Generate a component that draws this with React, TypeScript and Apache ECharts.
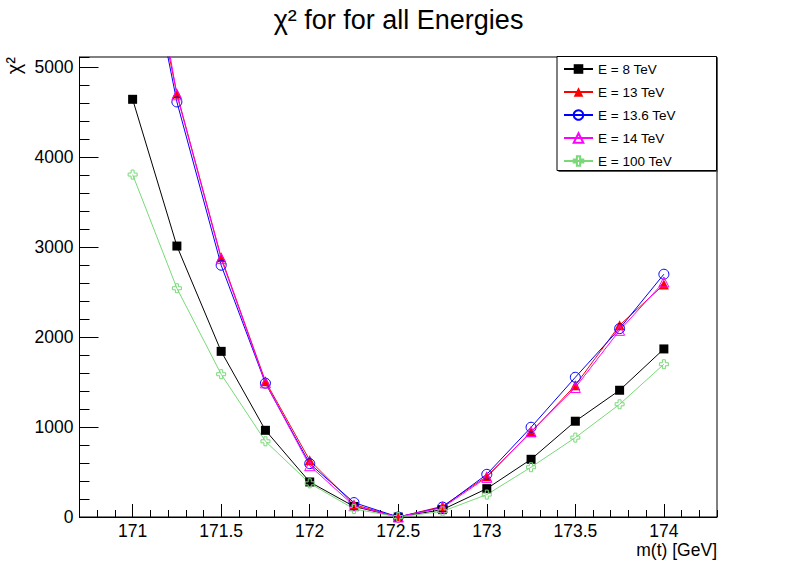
import React, { useEffect, useRef } from "react";
import * as echarts from "echarts";

// top-quark mass points (GeV)
const masses = [171, 171.25, 171.5, 171.75, 172, 172.25, 172.5, 172.75, 173, 173.25, 173.5, 173.75, 174];

// chi2 values
const chi2E8 = [4640, 3010, 1840, 963, 389, 117, 0, 82, 315, 641, 1064, 1408, 1867];
const chi2E13 = [7100, 4704, 2885, 1508, 630, 138, 0, 119, 452, 941, 1463, 2130, 2582];
const chi2E136 = [7080, 4611, 2797, 1486, 593, 160, 0, 110, 474, 997, 1552, 2093, 2697];
const chi2E14 = [7500, 4690, 2870, 1490, 570, 125, 0, 105, 440, 950, 1438, 2074, 2611];
const chi2E100 = [3804, 2541, 1586, 841, 374, 90, 0, 63, 249, 553, 882, 1252, 1697];

const seriesNames = ["E = 8 TeV", "E = 13 TeV", "E = 13.6 TeV", "E = 14 TeV", "E = 100 TeV"];

const titleText = "χ² for for all Energies";
const xTitle = "m(t) [GeV]";
const yTitle = "χ²";

const xMin = 170.7;
const xMax = 174.3;
const yMin = 0;
const yMax = 5110;

const FONT = "'Liberation Sans', Arial, Helvetica, sans-serif";
const GREEN = "#79d979";
const CROSS = "path://M3,0 L6,0 L6,3 L9,3 L9,6 L6,6 L6,9 L3,9 L3,6 L0,6 L0,3 L3,3 Z";

function pairs(ys: number[]) {
  return masses.map((m, i) => [m, ys[i]]);
}

export default function App() {
  const ref = useRef<HTMLDivElement>(null);

  useEffect(() => {
    if (!ref.current) return;
    const chart = echarts.init(ref.current, null, { renderer: "svg" });

    const baseSeries = (name: string, ys: number[], color: string, symbol: string, size: number, filled: boolean) => ({
      name,
      type: "line",
      data: pairs(ys),
      xAxisIndex: 0,
      yAxisIndex: 0,
      symbol,
      symbolSize: size,
      showAllSymbol: true,
      clip: true,
      lineStyle: { color, width: 1 },
      itemStyle: filled
        ? { color, borderWidth: 0 }
        : { color: "rgba(255,255,255,0)", borderColor: color, borderWidth: 1 },
      emphasis: { disabled: true },
    });

    const option: any = {
      animation: false,
      grid: {
        left: 79.5,
        top: 57,
        right: 81,
        bottom: 58,
        show: true,
        borderColor: "#000",
        borderWidth: 1,
        backgroundColor: "transparent",
        containLabel: false,
      },
      xAxis: [
        {
          type: "value",
          position: "bottom",
          min: xMin,
          max: xMax,
          splitNumber: 7,
          minInterval: 0.5,
          maxInterval: 0.5,
          axisLine: { show: true, onZero: false, lineStyle: { color: "#000", width: 1 } },
          axisTick: { show: true, inside: true, length: 13, lineStyle: { color: "#000", width: 1 } },
          axisLabel: {
            showMinLabel: false,
            showMaxLabel: false,
            color: "#000",
            fontSize: 17.5,
            fontFamily: FONT,
            margin: 5,
            formatter: (v: number) => String(v),
          },
          splitLine: { show: false },
        },
        {
          type: "value",
          position: "bottom",
          min: xMin,
          max: xMax,
          splitNumber: 36,
          minInterval: 0.1,
          maxInterval: 0.1,
          axisLine: { show: false, onZero: false },
          axisTick: { show: true, inside: true, length: 7, lineStyle: { color: "#000", width: 1 } },
          axisLabel: { show: false },
          splitLine: { show: false },
        },
      ],
      yAxis: [
        {
          type: "value",
          position: "left",
          min: yMin,
          max: yMax,
          interval: 1000,
          axisLine: { show: true, onZero: false, lineStyle: { color: "#000", width: 1 } },
          axisTick: { show: true, inside: true, length: 19, lineStyle: { color: "#000", width: 1 } },
          axisLabel: {
            showMaxLabel: false,
            color: "#000",
            fontSize: 17.5,
            fontFamily: FONT,
            margin: 6,
            formatter: (v: number) => String(v),
          },
          splitLine: { show: false },
        },
        {
          type: "value",
          position: "left",
          min: yMin,
          max: yMax,
          interval: 200,
          axisLine: { show: false, onZero: false },
          axisTick: { show: true, inside: true, length: 10, lineStyle: { color: "#000", width: 1 } },
          axisLabel: { show: false },
          splitLine: { show: false },
        },
      ],
      legend: {
        data: seriesNames,
        orient: "vertical",
        left: 563,
        top: 62,
        itemWidth: 29,
        itemHeight: 12,
        itemGap: 9,
        padding: 0,
        selectedMode: false,
        z: 10,
        textStyle: { fontFamily: FONT, fontSize: 13.5, color: "#000", lineHeight: 14 },
      },
      graphic: [
        {
          type: "rect",
          z: 8,
          shape: { x: 558.5, y: 58, width: 159.5, height: 114 },
          style: { fill: "#555", stroke: "none" },
        },
        {
          type: "rect",
          z: 9,
          shape: { x: 557, y: 56.5, width: 159.5, height: 114 },
          style: { fill: "#fff", stroke: "#000", lineWidth: 1 },
        },
        {
          type: "text",
          x: 398.5,
          y: 20,
          style: {
            text: titleText,
            fontFamily: FONT,
            fontSize: 27,
            fill: "#000",
            align: "center",
            verticalAlign: "middle",
          },
        },
        {
          type: "text",
          x: 717,
          y: 550,
          style: {
            text: xTitle,
            fontFamily: FONT,
            fontSize: 17.5,
            fill: "#000",
            align: "right",
            verticalAlign: "middle",
          },
        },
        {
          type: "text",
          x: 14,
          y: 57,
          rotation: Math.PI / 2,
          style: {
            text: yTitle,
            fontFamily: FONT,
            fontSize: 20,
            fill: "#000",
            align: "right",
            verticalAlign: "middle",
          },
        },
      ],
      series: [
        baseSeries(seriesNames[0], chi2E8, "#000", "rect", 9, true),
        baseSeries(seriesNames[1], chi2E13, "#ff0000", "triangle", 10, true),
        baseSeries(seriesNames[2], chi2E136, "#0000ff", "circle", 10, false),
        baseSeries(seriesNames[3], chi2E14, "#ff00ff", "triangle", 10, false),
        baseSeries(seriesNames[4], chi2E100, GREEN, CROSS, 9, false),
      ],
    };

    chart.setOption(option);
    return () => chart.dispose();
  }, []);

  return (
    <div
      ref={ref}
      style={{ position: "absolute", left: 0, top: 0, width: 798, height: 575, background: "#fff" }}
    />
  );
}
